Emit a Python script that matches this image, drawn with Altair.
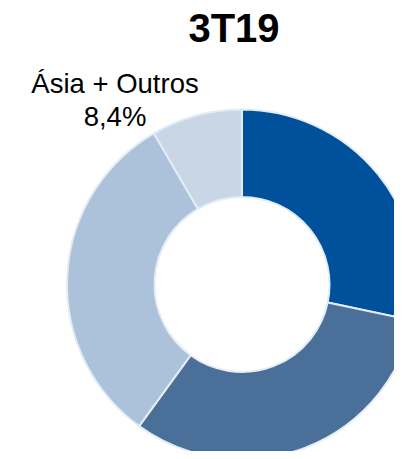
import altair as alt
import pandas as pd

categories = ["Brasil", "América do Norte", "Europa", "Ásia + Outros"]
values = [28.3, 31.7, 31.6, 8.4]
colors = ["#00519B", "#4A6F98", "#ABC2DA", "#C8D6E6"]
title_text = "3T19"
label_lines = ["Ásia + Outros", "8,4%"]

df = pd.DataFrame({"cat": categories, "val": values, "ord": list(range(len(values)))})

base = alt.Chart(df)

arcs = base.mark_arc(radius=175, radius2=87.5, stroke="#E4EDF5", strokeWidth=2).encode(
    theta=alt.Theta("val:Q", stack=True),
    order=alt.Order("ord:O"),
    color=alt.Color("cat:N", scale=alt.Scale(domain=categories, range=colors), legend=None),
    x=alt.value(234),
    y=alt.value(276.5),
)

title = alt.Chart(pd.DataFrame({"t": [title_text]})).mark_text(
    font="Liberation Sans", fontWeight="bold", fontSize=40, color="#000000",
    align="center", baseline="alphabetic"
).encode(text="t:N", x=alt.value(226), y=alt.value(34))

label = alt.Chart(pd.DataFrame({"t": [label_lines]})).mark_text(
    font="Liberation Sans", fontSize=27.5, color="#000000",
    align="center", baseline="alphabetic", lineHeight=33
).encode(text="t", x=alt.value(107), y=alt.value(85))

chart = alt.layer(arcs, title, label).properties(
    width=386, height=443, padding=0,
    autosize=alt.AutoSizeParams(type="none"),
).configure_view(stroke=None)

chart.save("out.html", embed_options={"renderer": "svg", "actions": False})
